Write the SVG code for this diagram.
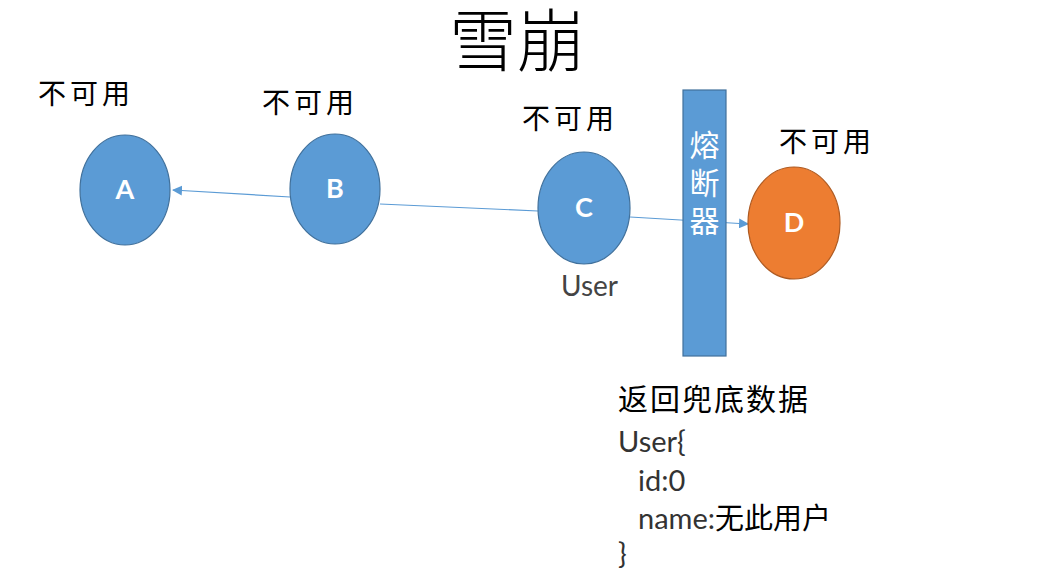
<svg xmlns="http://www.w3.org/2000/svg" width="1045" height="580" viewBox="0 0 1045 580">
<defs>
<marker id="arr" viewBox="0 0 10 10" refX="9" refY="5" markerWidth="10" markerHeight="10" markerUnits="userSpaceOnUse" orient="auto">
<path d="M0,0 L10,5 L0,10 Z" fill="#5B9BD5"/>
</marker>
<style>
.cjk{font-family:"Noto Sans CJK SC","Noto Sans",sans-serif;fill:#000;}
.lbl{font-size:28px;letter-spacing:4px;}
.blue{fill:#5B9BD5;stroke:#41719C;stroke-width:1.2;}
.orange{fill:#ED7D31;stroke:#AE5A21;stroke-width:1.2;}
.nl{font-family:Lato,"Liberation Sans",sans-serif;font-size:27px;fill:#fff;text-anchor:middle;font-weight:bold;}
.lat{font-family:Lato,"Noto Sans CJK SC",sans-serif;font-size:29px;fill:#333;}
.conn{stroke:#5B9BD5;stroke-width:1.2;fill:none;}
</style>
</defs>
<rect width="1045" height="580" fill="#fff"/>
<text id="title" x="517" y="66" text-anchor="middle" style="font-family:'Liberation Serif','Noto Sans CJK SC',serif;font-size:68px;font-weight:300;fill:#000;">雪崩</text>
<g id="connectors">
<path class="conn" d="M290,197 L173,190" marker-end="url(#arr)"/>
<path class="conn" d="M538,211 L380,204"/>
<path class="conn" d="M630,217 L748,224" marker-end="url(#arr)"/>
</g>
<g id="nodeA">
<ellipse class="blue" cx="125" cy="190" rx="45" ry="55"/>
<text class="nl" x="125" y="199">A</text>
<text class="cjk lbl" x="38" y="104">不可用</text>
</g>
<g id="nodeB">
<ellipse class="blue" cx="335" cy="189" rx="45" ry="55"/>
<text class="nl" x="335" y="198">B</text>
<text class="cjk lbl" x="262" y="113">不可用</text>
</g>
<g id="nodeC">
<ellipse class="blue" cx="584" cy="208" rx="46" ry="56"/>
<text class="nl" x="584" y="217">C</text>
<text class="cjk lbl" x="522" y="129">不可用</text>
<text class="lat" x="561" y="296" style="font-size:28px;fill:#444;">User</text>
</g>
<g id="breaker">
<rect class="blue" x="683" y="90" width="43" height="266"/>
<text class="cjk" x="704.5" y="130" style="font-size:30px;fill:#fff;writing-mode:vertical-rl;letter-spacing:8px;">熔断器</text>
</g>
<g id="nodeD">
<ellipse class="orange" cx="794" cy="223" rx="46" ry="56"/>
<text class="nl" x="794" y="232">D</text>
<text class="cjk lbl" x="779" y="152">不可用</text>
</g>
<g id="fallback">
<text class="cjk" x="618" y="410" style="font-size:30px;letter-spacing:2px;">返回兜底数据</text>
<text class="lat" x="618" y="452">User{</text>
<text class="lat" x="638" y="491">id:0</text>
<text class="lat" x="638" y="529">name:<tspan class="cjk" style="font-size:29px;fill:#000;">无此用户</tspan></text>
<text class="lat" x="618" y="564">}</text>
</g>
</svg>
